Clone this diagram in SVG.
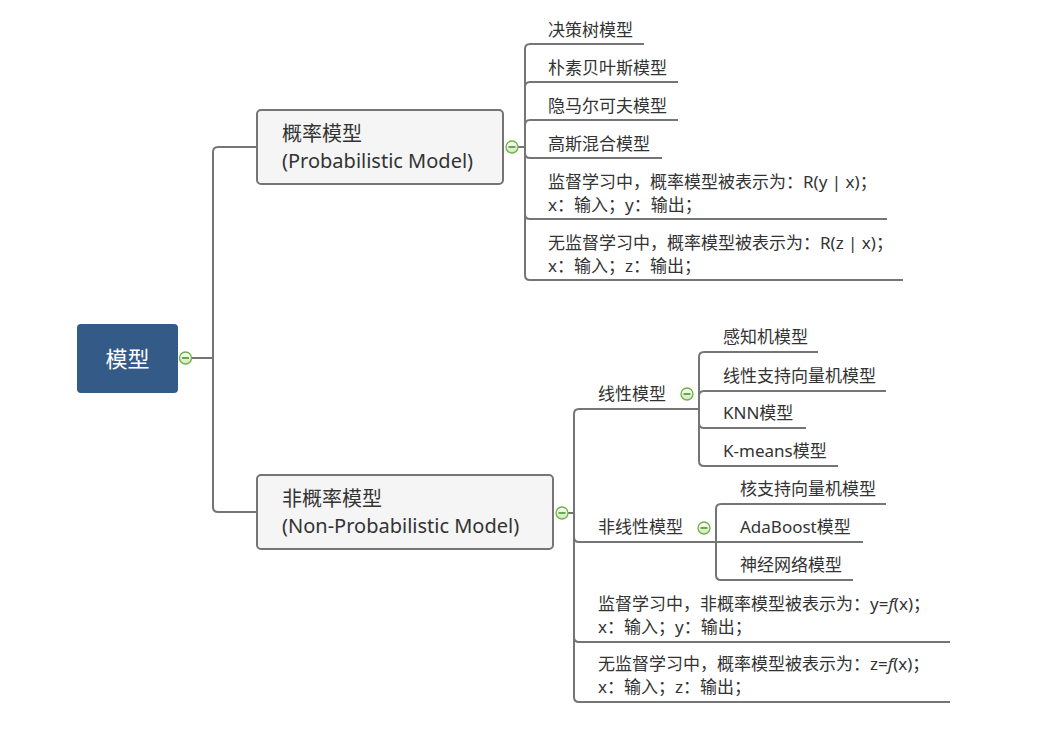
<svg xmlns="http://www.w3.org/2000/svg" width="1050" height="742" viewBox="0 0 1050 742">
<defs>
<linearGradient id="btn" x1="0" y1="0" x2="0" y2="1">
<stop offset="0" stop-color="#ffffff"/>
<stop offset="1" stop-color="#cfe6bd"/>
</linearGradient>
<style>
.ln{fill:none;stroke:#757575;stroke-width:2}
.t{font-family:"Noto Sans","Noto Sans CJK SC",sans-serif;fill:#333333}
.s{font-size:17px}
.m{font-size:20px}
.btn circle{fill:url(#btn);stroke:#6db33f;stroke-width:1.3}
.btn line{stroke:#3f8f1f;stroke-width:1.5}
</style>
</defs>
<rect width="1050" height="742" fill="#ffffff"/>
<g id="connectors">
<path class="ln" d="M191 358 H213"/>
<path class="ln" d="M257 147 H218 Q213 147 213 152 V507 Q213 512 218 512 H257"/>
<path class="ln" d="M518 147 H525"/>
<path class="ln" d="M644 44 H530 Q525 44 525 49 V275 Q525 280 530 280 H903"/>
<path class="ln" d="M525 87 Q525 82 530 82 H678"/>
<path class="ln" d="M525 125 Q525 120 530 120 H678"/>
<path class="ln" d="M525 153 Q525 158 530 158 H662"/>
<path class="ln" d="M525 214 Q525 219 530 219 H887"/>
<path class="ln" d="M568 513 H574"/>
<path class="ln" d="M699 409 H579 Q574 409 574 414 V697 Q574 702 579 702 H950"/>
<path class="ln" d="M574 537 Q574 542 579 542 H716"/>
<path class="ln" d="M574 637 Q574 642 579 642 H950"/>
<path class="ln" d="M818 352 H704 Q699 352 699 357 V461 Q699 466 704 466 H838"/>
<path class="ln" d="M699 396 Q699 391 704 391 H886"/>
<path class="ln" d="M699 423 Q699 428 704 428 H806"/>
<path class="ln" d="M886 504 H721 Q716 504 716 509 V575 Q716 580 721 580 H853"/>
<path class="ln" d="M716 542 H863"/>
</g>
<g id="root">
<rect x="77" y="324" width="101" height="69" rx="4" fill="#345a87"/>
<text class="t" x="127.5" y="367" font-size="22" style="fill:#ffffff" text-anchor="middle">模型</text>
<g class="btn"><circle cx="185.5" cy="358" r="6"/><line x1="182" y1="358" x2="189" y2="358"/></g>
</g>
<g id="prob">
<rect x="257" y="110" width="246" height="74" rx="4" fill="#f5f5f5" stroke="#757575" stroke-width="2"/>
<text class="t m" x="282" y="141">概率模型</text>
<text class="t m" x="282" y="168">(Probabilistic Model)</text>
<g class="btn"><circle cx="512" cy="147" r="6"/><line x1="508.5" y1="147" x2="515.5" y2="147"/></g>
</g>
<g id="p1"><text class="t s" x="548" y="36">决策树模型</text></g>
<g id="p2"><text class="t s" x="548" y="74">朴素贝叶斯模型</text></g>
<g id="p3"><text class="t s" x="548" y="112">隐马尔可夫模型</text></g>
<g id="p4"><text class="t s" x="548" y="150">高斯混合模型</text></g>
<g id="p5"><text class="t s" x="548" y="188">监督学习中，概率模型被表示为：R(y | x)；</text><text class="t s" x="548" y="211">x：输入；y：输出；</text></g>
<g id="p6"><text class="t s" x="548" y="249">无监督学习中，概率模型被表示为：R(z | x)；</text><text class="t s" x="548" y="272">x：输入；z：输出；</text></g>
<g id="nonprob">
<rect x="257" y="475" width="296" height="74" rx="4" fill="#f5f5f5" stroke="#757575" stroke-width="2"/>
<text class="t m" x="282" y="506">非概率模型</text>
<text class="t m" x="282" y="533">(Non-Probabilistic Model)</text>
<g class="btn"><circle cx="562" cy="513" r="6"/><line x1="558.5" y1="513" x2="565.5" y2="513"/></g>
</g>
<g id="linear">
<text class="t s" x="598" y="400">线性模型</text>
<g class="btn"><circle cx="687" cy="394" r="6"/><line x1="683.5" y1="394" x2="690.5" y2="394"/></g>
</g>
<g id="l1"><text class="t s" x="723" y="343">感知机模型</text></g>
<g id="l2"><text class="t s" x="723" y="382">线性支持向量机模型</text></g>
<g id="l3"><text class="t s" x="723" y="419">KNN模型</text></g>
<g id="l4"><text class="t s" x="723" y="457">K-means模型</text></g>
<g id="nonlinear">
<text class="t s" x="598" y="533">非线性模型</text>
<g class="btn"><circle cx="704" cy="528" r="6"/><line x1="700.5" y1="528" x2="707.5" y2="528"/></g>
</g>
<g id="n1"><text class="t s" x="740" y="495">核支持向量机模型</text></g>
<g id="n2"><text class="t s" x="740" y="533">AdaBoost模型</text></g>
<g id="n3"><text class="t s" x="740" y="571">神经网络模型</text></g>
<g id="np1"><text class="t s" x="598" y="610">监督学习中，非概率模型被表示为：y=<tspan font-style="italic">f</tspan>(x)；</text><text class="t s" x="598" y="633">x：输入；y：输出；</text></g>
<g id="np2"><text class="t s" x="598" y="670">无监督学习中，概率模型被表示为：z=<tspan font-style="italic">f</tspan>(x)；</text><text class="t s" x="598" y="693">x：输入；z：输出；</text></g>
</svg>
